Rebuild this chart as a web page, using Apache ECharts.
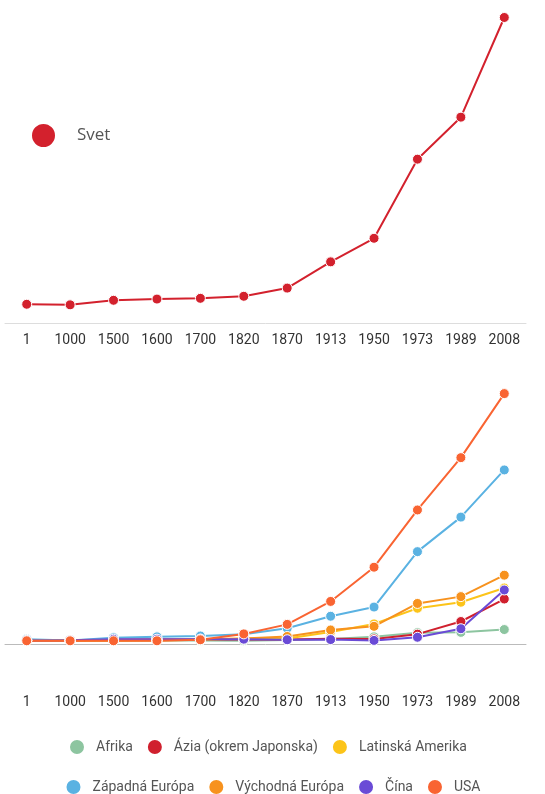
<!DOCTYPE html>
<html>
<head>
<meta charset="utf-8">
<script src="https://cdn.jsdelivr.net/npm/echarts@6/dist/echarts.min.js"></script>
<style>
  html, body { margin: 0; padding: 0; background: #fff; }
  #main { width: 545px; height: 794px; }
</style>
</head>
<body>
<div id="main"></div>
<script>
const years = ['1', '1000', '1500', '1600', '1700', '1820', '1870', '1913', '1950', '1973', '1989', '2008']

const svet = [467, 453, 566, 596, 615, 666, 870, 1524, 2111, 4083, 5130, 7614]

const afrika = [472, 425, 414, 422, 421, 420, 500, 637, 889, 1410, 1450, 1800]
const azia = [456, 450, 568, 574, 572, 577, 550, 658, 635, 1225, 2800, 5600]
const latinska = [400, 400, 416, 438, 527, 691, 676, 1494, 2503, 4450, 5200, 6973]
const zapadna = [576, 427, 771, 889, 997, 1202, 1960, 3457, 4600, 11500, 15800, 21672]
const vychodna = [412, 400, 496, 548, 606, 683, 937, 1750, 2200, 5050, 5900, 8569]
const cina = [450, 466, 600, 600, 600, 600, 530, 552, 448, 838, 1900, 6725]
const usa = [400, 400, 400, 400, 527, 1257, 2445, 5301, 9561, 16689, 23201, 31178]

const font = 'Roboto'

function line (name, color, data, idx) {
  return {
    name: name,
    type: 'line',
    xAxisIndex: idx,
    yAxisIndex: idx,
    data: data,
    symbol: 'circle',
    symbolSize: 10,
    showSymbol: true,
    itemStyle: { color: color, borderColor: '#fff', borderWidth: 1 },
    lineStyle: { color: color, width: 2 },
    emphasis: { disabled: true }
  }
}

const chart = echarts.init(document.getElementById('main'))
chart.setOption({
  animation: false,
  textStyle: { fontFamily: font },
  legend: [
    {
      data: ['Svet'],
      left: 25,
      top: 117,
      icon: 'circle',
      itemWidth: 25,
      itemHeight: 25,
      textStyle: { fontSize: 17, color: '#555', fontFamily: 'Open Sans', padding: [0, 0, 0, 16] },
      selectedMode: false
    },
    {
      data: ['Afrika', 'Ázia (okrem Japonska)', 'Latinská Amerika'],
      left: 63,
      top: 733,
      icon: 'circle',
      itemWidth: 16,
      itemHeight: 16,
      itemGap: 13,
      textStyle: { fontSize: 14, color: '#555', padding: [0, 0, 0, 6] },
      selectedMode: false
    },
    {
      data: ['Západná Európa', 'Východná Európa', 'Čína', 'USA'],
      left: 'center',
      top: 773,
      icon: 'circle',
      itemWidth: 16,
      itemHeight: 16,
      itemGap: 13,
      textStyle: { fontSize: 14, color: '#555', padding: [0, 0, 0, 6] },
      selectedMode: false
    }
  ],
  grid: [
    { left: 5, right: 19, top: 2, bottom: 471 },
    { left: 5, right: 19, top: 387, bottom: 150 }
  ],
  xAxis: [
    {
      gridIndex: 0,
      type: 'category',
      data: years,
      boundaryGap: true,
      axisLine: { lineStyle: { color: '#ddd', width: 1 } },
      axisTick: { show: false },
      axisLabel: { color: '#333', fontSize: 14, margin: 10, interval: 0 }
    },
    {
      gridIndex: 1,
      type: 'category',
      data: years,
      boundaryGap: true,
      axisLine: { lineStyle: { color: '#bbb', width: 1 } },
      axisTick: { show: false },
      axisLabel: { color: '#333', fontSize: 14, margin: 51, interval: 0 }
    }
  ],
  yAxis: [
    { gridIndex: 0, type: 'value', min: 0, max: 8000, show: false },
    { gridIndex: 1, type: 'value', min: 0, max: 32000, show: false }
  ],
  series: [
    line('Svet', '#d3212d', svet, 0),
    line('Afrika', '#8dc5a0', afrika, 1),
    line('Ázia (okrem Japonska)', '#d0202e', azia, 1),
    line('Latinská Amerika', '#fcc419', latinska, 1),
    line('Západná Európa', '#5ab2e2', zapadna, 1),
    line('Východná Európa', '#f7921e', vychodna, 1),
    line('Čína', '#6a4bd6', cina, 1),
    line('USA', '#f96432', usa, 1)
  ]
})
</script>
</body>
</html>
